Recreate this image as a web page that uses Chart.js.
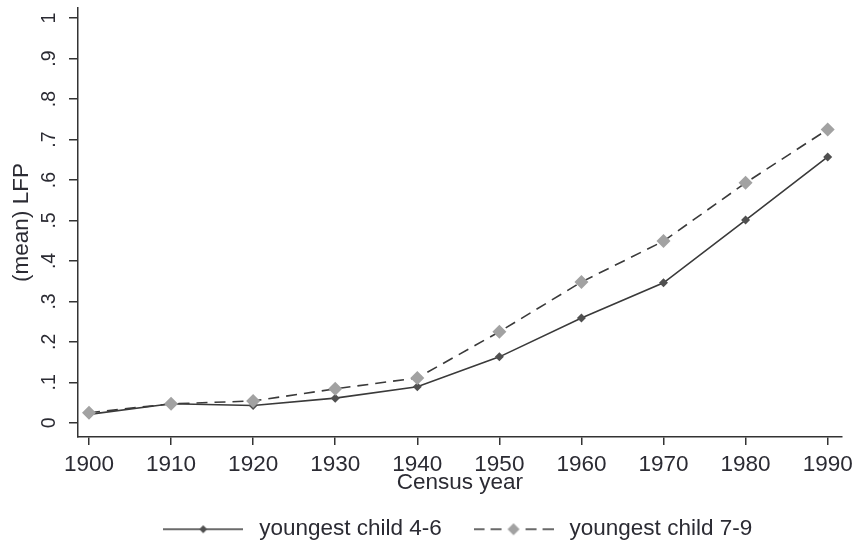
<!DOCTYPE html>
<html>
<head>
<meta charset="utf-8">
<title>LFP by census year</title>
<script src="https://cdn.jsdelivr.net/npm/chart.js@4.4.1/dist/chart.umd.min.js"></script>
<style>
  html, body { margin: 0; padding: 0; background: #fff; }
  #wrap { width: 859px; height: 548px; }
</style>
</head>
<body>
<div id="wrap"><canvas id="lfpChart" width="859" height="548"></canvas></div>
<script>
const years = [1900, 1910, 1920, 1930, 1940, 1950, 1960, 1970, 1980, 1990];
const youngest46 = [0.021, 0.047, 0.043, 0.061, 0.089, 0.163, 0.259, 0.346, 0.501, 0.657];
const youngest79 = [0.025, 0.047, 0.054, 0.084, 0.111, 0.225, 0.348, 0.449, 0.593, 0.725];
const seriesNames = ['youngest child 4-6', 'youngest child 7-9'];
const yTickValues = [0, 0.1, 0.2, 0.3, 0.4, 0.5, 0.6, 0.7, 0.8, 0.9, 1];
const yTickLabels = ['0', '.1', '.2', '.3', '.4', '.5', '.6', '.7', '.8', '.9', '1'];

const FONT = '"Liberation Sans", Arial, sans-serif';
const TEXT = '#2b2b33';
const AXIS = '#333';

// little line + marker swatches for the legend
function legendSwatch(dashed) {
  const c = document.createElement('canvas');
  c.width = 80; c.height = 16;
  const g = c.getContext('2d');
  g.strokeStyle = '#3a3a3a';
  g.lineWidth = 1.6;
  if (dashed) {
    g.setLineDash([11, 6]);
    g.beginPath(); g.moveTo(0, 8); g.lineTo(33, 8); g.stroke();
    g.beginPath(); g.moveTo(80, 8); g.lineTo(47, 8); g.stroke();
    g.fillStyle = '#a2a2a2';
    g.beginPath(); g.moveTo(40, 2); g.lineTo(46, 8); g.lineTo(40, 14); g.lineTo(34, 8); g.closePath(); g.fill();
  } else {
    g.beginPath(); g.moveTo(0, 8); g.lineTo(80, 8); g.stroke();
    g.fillStyle = '#505050';
    g.beginPath(); g.moveTo(40, 4); g.lineTo(44, 8); g.lineTo(40, 12); g.lineTo(36, 8); g.closePath(); g.fill();
  }
  return c;
}
const swatches = [legendSwatch(false), legendSwatch(true)];

// keep the legend centred under the plot area rather than the canvas
const legendUnderPlot = {
  id: 'legendUnderPlot',
  afterLayout(chart) {
    const lg = chart.legend;
    if (!lg) return;
    lg.left = chart.chartArea.left;
    lg.right = chart.chartArea.right - 9;
    lg.top += 2.5;
    lg.bottom += 2.5;
  }
};

const ctx = document.getElementById('lfpChart').getContext('2d');
new Chart(ctx, {
  type: 'line',
  data: {
    datasets: [
      {
        label: seriesNames[0],
        data: years.map((yr, i) => ({ x: yr, y: youngest46[i] })),
        borderColor: '#3a3a3a',
        borderWidth: 1.6,
        pointStyle: 'rectRot',
        pointRadius: 4.5,
        pointBackgroundColor: '#505050',
        pointBorderWidth: 0,
        tension: 0,
        order: 1
      },
      {
        label: seriesNames[1],
        data: years.map((yr, i) => ({ x: yr, y: youngest79[i] })),
        borderColor: '#3a3a3a',
        borderWidth: 1.6,
        borderDash: [11, 7],
        pointStyle: 'rectRot',
        pointRadius: 7,
        pointBackgroundColor: '#a2a2a2',
        pointBorderWidth: 0,
        tension: 0,
        order: 0
      }
    ]
  },
  plugins: [legendUnderPlot],
  options: {
    responsive: false,
    animation: false,
    devicePixelRatio: 1,
    layout: { padding: { top: 8, right: 17, bottom: 0, left: 0 } },
    plugins: {
      tooltip: { enabled: false },
      legend: {
        position: 'bottom',
        labels: {
          usePointStyle: true,
          pointStyleWidth: 89.5,
          padding: 27,
          color: TEXT,
          font: { family: FONT, size: 22.5 },
          sort: (a, b) => a.datasetIndex - b.datasetIndex,
          generateLabels(chart) {
            const items = Chart.defaults.plugins.legend.labels.generateLabels(chart);
            items.forEach(it => { it.pointStyle = swatches[it.datasetIndex]; });
            return items;
          }
        }
      }
    },
    scales: {
      x: {
        type: 'linear',
        min: 1898.66,
        max: 1991.7,
        afterBuildTicks(scale) { scale.ticks = years.map(v => ({ value: v })); },
        afterFit(scale) { scale.height = 51.5; },
        ticks: {
          autoSkip: false,
          maxRotation: 0,
          padding: 6,
          color: TEXT,
          font: { family: FONT, size: 22.5 },
          callback: v => String(v)
        },
        grid: { drawOnChartArea: false, drawTicks: true, tickLength: 8, color: AXIS, lineWidth: 1.5 },
        border: { display: true, color: AXIS, width: 1.5 },
        title: {
          display: true,
          text: 'Census year',
          color: TEXT,
          font: { family: FONT, size: 22.5 },
          padding: { top: 0, bottom: -8 }
        }
      },
      y: {
        type: 'linear',
        min: -0.035,
        max: 1.025,
        afterBuildTicks(scale) { scale.ticks = yTickValues.map(v => ({ value: v })); },
        afterFit(scale) {
          scale.width = 78;
          scale.paddingTop = 0;
          scale.paddingBottom = 0;
        },
        ticks: {
          autoSkip: false,
          minRotation: 90,
          maxRotation: 90,
          crossAlign: 'center',
          padding: 11,
          color: TEXT,
          font: { family: FONT, size: 19.5 },
          callback: (v, i) => yTickLabels[i]
        },
        grid: { drawOnChartArea: false, drawTicks: true, tickLength: 9, color: AXIS, lineWidth: 1.5 },
        border: { display: true, color: AXIS, width: 1.5 },
        title: {
          display: true,
          text: '(mean) LFP',
          color: TEXT,
          font: { family: FONT, size: 22.5 },
          padding: { top: 8, bottom: 0 }
        }
      }
    }
  }
});
</script>
</body>
</html>
